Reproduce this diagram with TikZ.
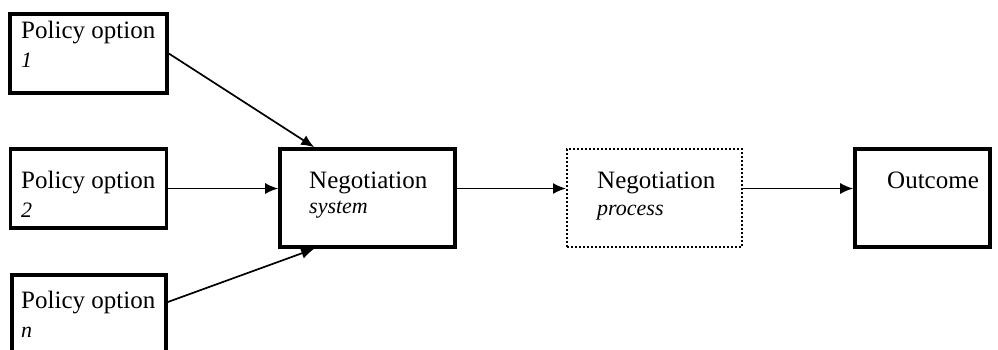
\documentclass[tikz,border=0pt]{standalone}
\usepackage{fontspec}
\setmainfont{Liberation Serif}
\usetikzlibrary{arrows.meta}
\begin{document}
\begin{tikzpicture}[x=1pt,y=-1pt,
  box/.style={draw,line width=3.6pt,inner sep=0pt,minimum width=#1},
  dotbox/.style={draw,line width=2pt,dotted,inner sep=0pt},
  conn/.style={line width=1.7pt,-{Latex[length=13pt,width=11pt]}},
  rtxt/.style={anchor=base west,inner sep=0pt,font=\fontsize{25}{30}\selectfont},
  itxt/.style={anchor=base west,inner sep=0pt,font=\fontsize{22}{26}\selectfont\itshape}]
\useasboundingbox (0,0) rectangle (998,349);
% boxes
\node[box=157pt,minimum height=79pt] (p1) at (88.5,53.5) {};
\node[box=156pt,minimum height=79pt] (p2) at (88.5,188.5) {};
\node[box=154pt,minimum height=90pt] (pn) at (89,320) {};
\node[box=175pt,minimum height=98pt] (sys) at (367.5,198) {};
\node[dotbox,minimum width=175pt,minimum height=98pt] (proc) at (654.5,198) {};
\node[box=135pt,minimum height=98pt] (out) at (922.5,198) {};
% texts
\node[rtxt] (t1) at (21,38) {Policy option};
\node[itxt] (t1b) at (21,67) {1};
\node[rtxt] (t2) at (21,188) {Policy option};
\node[itxt] (t2b) at (21,217) {2};
\node[rtxt] (t3) at (21,308) {Policy option};
\node[itxt] (t3b) at (21,337) {n};
\node[rtxt] (ts) at (309,188) {Negotiation};
\node[itxt] (ts2) at (309,213) {system};
\node[rtxt] (tp) at (597,188) {Negotiation};
\node[itxt] (tp2) at (597,215) {process};
\node[rtxt] (to) at (887,188) {Outcome};
% connectors
\coordinate (sysTop) at ([xshift=36pt]sys.north west);
\coordinate (sysBot) at ([xshift=36pt]sys.south west);
\draw[conn] (p1.east) -- (sysTop);
\draw[conn] (p2.east) -- (p2.east -| sys.west);
\draw[conn] ([yshift=18pt]pn.east) -- (sysBot);
\draw[conn] (sys.east |- p2.east) -- (proc.west |- p2.east);
\draw[conn] (proc.east |- p2.east) -- (out.west |- p2.east);
\end{tikzpicture}
\end{document}
